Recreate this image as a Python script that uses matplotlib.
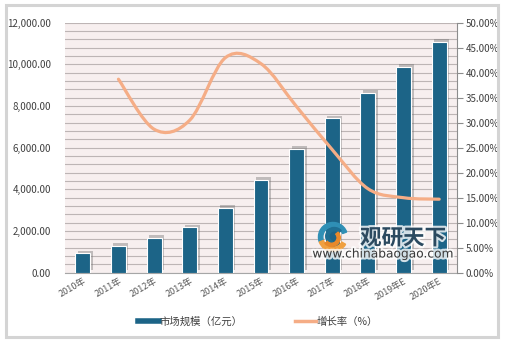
import matplotlib
matplotlib.use("Agg")
import matplotlib.pyplot as plt
import matplotlib.patheffects as pe
from matplotlib.path import Path
from matplotlib.patches import PathPatch, Rectangle, Wedge
from matplotlib.lines import Line2D
from matplotlib.ticker import FuncFormatter, MultipleLocator
import numpy as np

plt.rcParams['font.family'] = ['Noto Sans CJK SC', 'DejaVu Sans']

years = ['2010年', '2011年', '2012年', '2013年', '2014年', '2015年',
         '2016年', '2017年', '2018年', '2019年E', '2020年E']
market_size = [930, 1300, 1680, 2180, 3120, 4450, 5940, 7410, 8640, 9890, 11090]
growth_years = years[1:]
growth_rate = [38.7, 28.7, 30.5, 43.0, 41.8, 33.2, 24.6, 16.8, 15.0, 14.7]

BAR_COLOR = '#1c6487'
LINE_COLOR = '#f5ad86'
TEXT_COLOR = '#404040'


def smooth_path(xs, ys):
    # catmull-rom segments written as cubic beziers, like a "smoothed line"
    pts = np.column_stack([xs, ys]).astype(float)
    n = len(pts)
    verts = [pts[0]]
    codes = [Path.MOVETO]
    for i in range(n - 1):
        p0 = pts[max(i - 1, 0)]
        p1 = pts[i]
        p2 = pts[i + 1]
        p3 = pts[min(i + 2, n - 1)]
        c1 = p1 + (p2 - p0) / 6.0
        c2 = p2 - (p3 - p1) / 6.0
        verts += [c1, c2, p2]
        codes += [Path.CURVE4] * 3
    return Path(verts, codes)


fig = plt.figure(figsize=(5.08, 3.46), dpi=100)
fig.patches.append(Rectangle((6 / 508, 1 - 337 / 346), 492 / 508, 332 / 346,
                             transform=fig.transFigure, fill=False,
                             edgecolor='#d4d4d4', linewidth=2.2, zorder=0))

ax = fig.add_axes([65 / 508, 1 - 272.7 / 346, 392 / 508, 250 / 346])
ax.set_facecolor('#f7efef')
x = np.arange(len(years))

bars = ax.bar(x, market_size, width=0.42, color=BAR_COLOR, edgecolor='white',
              linewidth=0.8, zorder=3)
for b in bars:
    b.set_path_effects([pe.SimplePatchShadow(offset=(1.8, 1.8), shadow_rgbFace='#6e6e6e',
                                             alpha=0.4), pe.Normal()])

ax.set_xlim(-0.5, len(years) - 0.5)
ax.set_ylim(0, 12000)
ax.yaxis.set_major_locator(MultipleLocator(2000))
ax.yaxis.set_minor_locator(MultipleLocator(400))
ax.yaxis.set_major_formatter(FuncFormatter(lambda v, p: f'{v:,.2f}'))
ax.grid(axis='y', which='both', color='#bdb5b5', linewidth=0.8, zorder=0)
ax.set_axisbelow(True)
ax.tick_params(axis='y', which='both', length=0, labelsize=7, labelcolor=TEXT_COLOR, pad=10)
ax.tick_params(axis='x', length=0, labelsize=6.5, labelcolor='#595959', pad=3)
ax.set_xticks(x)
ax.set_xticklabels(years, rotation=30, ha='right', rotation_mode='anchor')
for s in ['top', 'left', 'right']:
    ax.spines[s].set_visible(False)
ax.spines['bottom'].set_color('#a6a6a6')

ax2 = ax.twinx()
ax2.set_ylim(0, 50)
ax2.yaxis.set_major_locator(MultipleLocator(5))
ax2.yaxis.set_major_formatter(FuncFormatter(lambda v, p: f'{v:.2f}%'))
ax2.tick_params(axis='y', length=4, width=0.8, color='#8c8c8c', labelsize=7,
                labelcolor=TEXT_COLOR, pad=2)
for s in ['top', 'left', 'bottom']:
    ax2.spines[s].set_visible(False)
ax2.spines['right'].set_color('#8c8c8c')

gx = [years.index(y) for y in growth_years]
ax2.add_patch(PathPatch(smooth_path(gx, growth_rate), fill=False, edgecolor=LINE_COLOR,
                        linewidth=2.3, capstyle='round', zorder=4))

# watermark: logo swirl plus site name
halo = [pe.withStroke(linewidth=3, foreground='white', alpha=0.8)]
logo = fig.add_axes([317 / 508, 1 - 253 / 346, 32 / 508, 32 / 346])
logo.set_xlim(-1.1, 1.1)
logo.set_ylim(-1.1, 1.1)
logo.axis('off')
logo.add_patch(Wedge((0, 0), 1.0, 20, 200, width=0.3, color='#2f8fb5'))
logo.add_patch(Wedge((0.1, 0.05), 0.6, 40, 250, width=0.22, color='#1f6f93'))
logo.add_patch(Wedge((0, 0), 1.0, 200, 330, width=0.3, color='#f0a040'))
logo.add_patch(Wedge((-0.1, -0.05), 0.6, 220, 400, width=0.22, color='#e8892a'))

fig.text(403 / 508, 1 - 238 / 346, '观研天下', fontsize=15.5, fontweight='bold',
         color='#2b4a60', ha='center', va='center', path_effects=halo)
fig.text(383 / 508, 1 - 254 / 346, 'www.chinabaogao.com', fontsize=8.8,
         color='#3a3a3a', ha='center', va='center', family='DejaVu Sans', path_effects=halo)

handles = [Line2D([], [], color=BAR_COLOR, linewidth=4),
           Line2D([], [], color=LINE_COLOR, linewidth=2.5)]
fig.legend(handles, ['市场规模（亿元）', '增长率（%）'], loc='center',
           bbox_to_anchor=(258 / 508, 1 - 322 / 346), ncol=2, frameon=False,
           fontsize=7.5, handlelength=2.0, handletextpad=0.1, columnspacing=5,
           labelcolor=TEXT_COLOR)

fig.savefig('out.png', dpi=100)
